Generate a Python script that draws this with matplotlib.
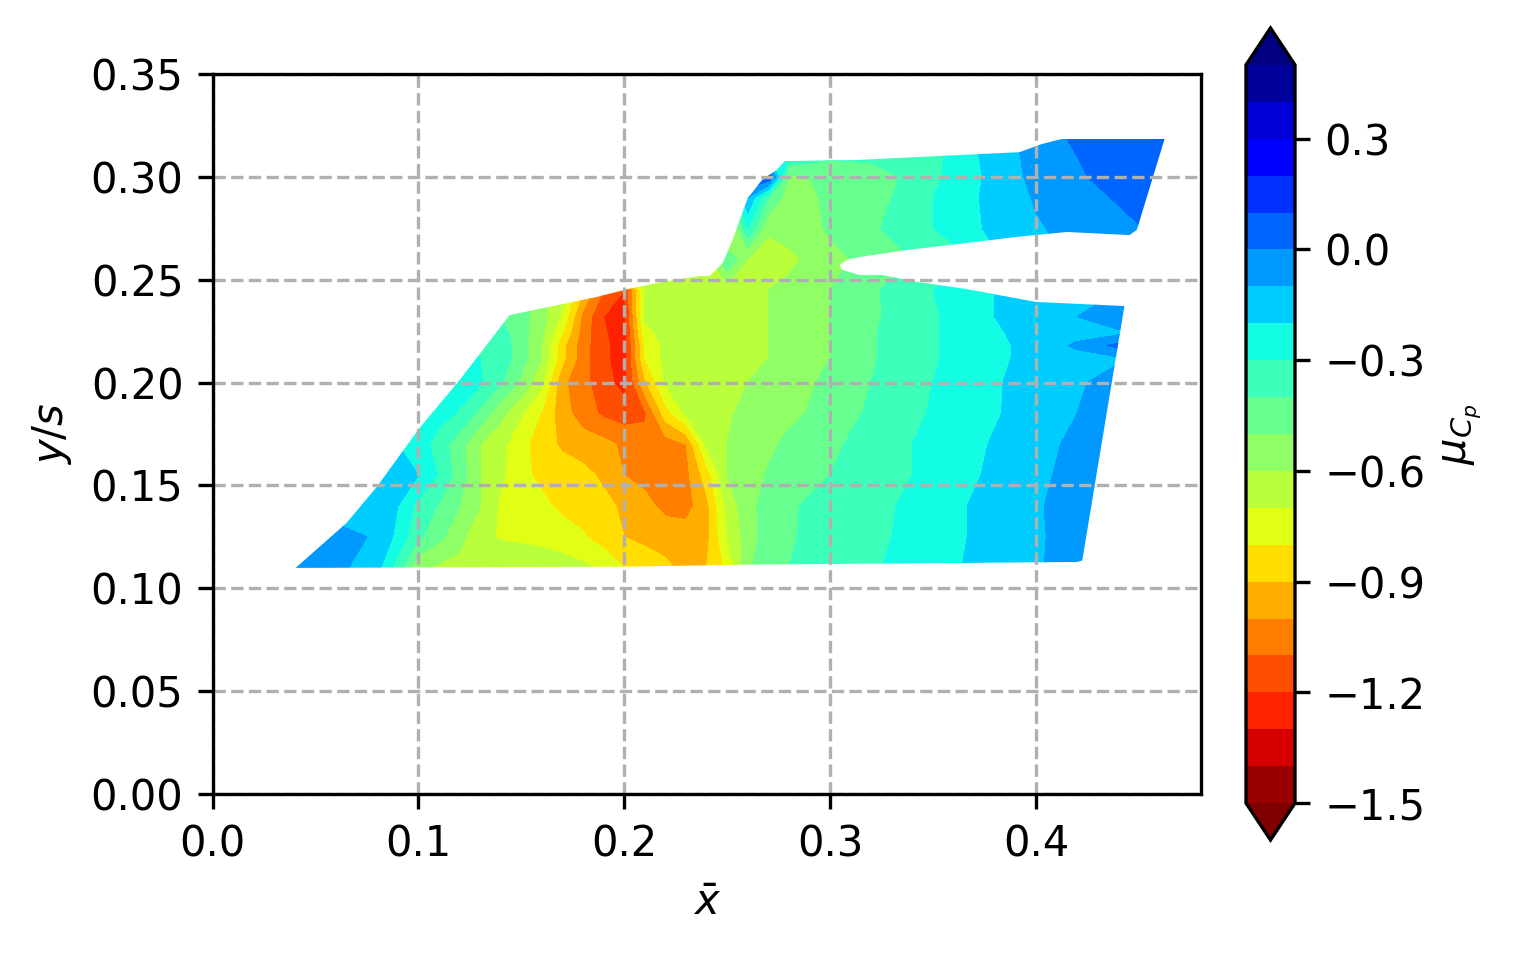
import numpy as np
import matplotlib
matplotlib.use("Agg")
import matplotlib.pyplot as plt
from matplotlib.patches import Polygon

x_stations = [.04,.06,.08,.09,.10,.11,.12,.13,.14,.15,.16,.17,.18,.19,.20,.21,.22,.23,.24,.25,.26,.27,.28,.30,.32,.34,.36,.38,.40,.42,.44,.46,.47]
y_stations = [.11,.125,.14,.155,.17,.185,.20,.212,.218,.224,.232,.245,.26,.275,.29,.30,.31,.32]

cp_y110 = [-.02,-.07,-.17,-.35,-.58,-.62,-.63,-.60,-.62,-.63,-.62,-.65,-.68,-.72,-.80,-.83,-.88,-.93,-.90,-.78,-.52,-.43,-.40,-.35,-.31,-.27,-.21,-.16,-.11,-.06,-.04,-.04,-.04]
cp_y125 = [-.05,-.07,-.11,-.23,-.38,-.47,-.57,-.67,-.71,-.72,-.74,-.76,-.79,-.85,-.90,-.93,-.94,-.95,-.93,-.70,-.55,-.45,-.41,-.36,-.32,-.28,-.22,-.16,-.11,-.07,-.05,-.05,-.05]
cp_y140 = [-.12,-.14,-.16,-.20,-.33,-.41,-.50,-.60,-.72,-.75,-.78,-.82,-.84,-.87,-.92,-.97,-1.03,-1.04,-.93,-.67,-.53,-.46,-.41,-.37,-.33,-.28,-.22,-.16,-.11,-.06,-.05,-.05,-.05]
cp_y155 = [-.15,-.15,-.15,-.17,-.20,-.31,-.45,-.60,-.68,-.78,-.82,-.84,-.87,-.92,-1.00,-1.03,-1.05,-1.03,-.85,-.60,-.55,-.49,-.45,-.40,-.35,-.30,-.24,-.18,-.12,-.07,-.05,-.05,-.05]
cp_y170 = [-.20,-.20,-.20,-.20,-.24,-.35,-.46,-.60,-.67,-.77,-.85,-.92,-.95,-.97,-1.02,-1.05,-1.05,-1.00,-.68,-.60,-.56,-.52,-.48,-.42,-.36,-.30,-.25,-.19,-.13,-.08,-.06,-.06,-.06]
cp_y185 = [-.25,-.25,-.25,-.25,-.25,-.26,-.31,-.43,-.57,-.69,-.81,-.96,-1.05,-1.12,-1.15,-1.12,-.85,-.68,-.65,-.61,-.58,-.55,-.52,-.47,-.38,-.32,-.26,-.21,-.15,-.10,-.07,-.07,-.07]
cp_y200 = [-.25,-.25,-.25,-.25,-.25,-.25,-.25,-.29,-.39,-.52,-.68,-.98,-1.07,-1.16,-1.24,-.92,-.69,-.66,-.65,-.63,-.60,-.57,-.54,-.48,-.40,-.33,-.27,-.21,-.16,-.11,-.07,-.07,-.07]
cp_y212 = [-.30,-.30,-.30,-.30,-.30,-.30,-.30,-.30,-.33,-.46,-.60,-.87,-1.06,-1.18,-1.25,-.80,-.67,-.66,-.65,-.65,-.63,-.60,-.57,-.50,-.41,-.34,-.28,-.22,-.17,-.14,-.11,-.11,-.11]
cp_y218 = [-.30,-.30,-.30,-.30,-.30,-.30,-.30,-.30,-.33,-.46,-.60,-.87,-1.06,-1.18,-1.25,-.80,-.67,-.66,-.65,-.65,-.63,-.60,-.57,-.50,-.41,-.34,-.28,-.22,-.17,-.08,.03,.03,.03]
cp_y224 = [-.34,-.34,-.34,-.34,-.34,-.34,-.34,-.34,-.36,-.46,-.58,-.80,-1.05,-1.19,-1.25,-.74,-.66,-.65,-.65,-.65,-.63,-.60,-.57,-.50,-.41,-.34,-.28,-.21,-.17,-.14,-.12,-.12,-.12]
cp_y232 = [-.38,-.38,-.38,-.38,-.38,-.38,-.38,-.38,-.40,-.46,-.56,-.72,-1.03,-1.20,-1.24,-.68,-.65,-.65,-.65,-.65,-.63,-.60,-.57,-.50,-.42,-.34,-.28,-.20,-.16,-.10,-.03,-.03,-.03]
cp_y245 = [-.40,-.40,-.40,-.40,-.40,-.40,-.40,-.40,-.42,-.48,-.56,-.66,-.90,-1.10,-1.20,-.68,-.65,-.65,-.65,-.65,-.64,-.60,-.57,-.50,-.42,-.33,-.27,-.20,-.15,-.12,-.10,-.10,-.10]
cp_y260 = [-.65,-.65,-.65,-.65,-.65,-.65,-.65,-.65,-.65,-.65,-.65,-.65,-.65,-.65,-.65,-.65,-.65,-.65,-.65,-.40,-.60,-.65,-.63,-.52,-.48,-.40,-.33,-.22,-.15,-.08,-.05,-.05,-.05]
cp_y275 = [-.70,-.70,-.70,-.70,-.70,-.70,-.70,-.70,-.70,-.70,-.70,-.70,-.70,-.70,-.70,-.70,-.70,-.70,-.70,-.72,-.30,-.58,-.55,-.49,-.42,-.33,-.27,-.17,-.11,-.07,-.03,.02,.02]
cp_y290 = [-.50,-.50,-.50,-.50,-.50,-.50,-.50,-.50,-.50,-.50,-.50,-.50,-.50,-.50,-.50,-.50,-.50,-.50,-.50,-.50,-.10,-.40,-.55,-.48,-.45,-.35,-.25,-.17,-.09,-.04,.01,.03,.03]
cp_y300 = [.10,.10,.10,.10,.10,.10,.10,.10,.10,.10,.10,.10,.10,.10,.10,.10,.10,.10,.10,.10,.10,.12,-.52,-.48,-.44,-.38,-.27,-.17,-.07,-.02,.06,.08,.08]
cp_y310 = [-.25,-.25,-.25,-.25,-.25,-.25,-.25,-.25,-.25,-.25,-.25,-.25,-.25,-.25,-.25,-.25,-.25,-.25,-.25,-.25,-.25,-.25,-.30,-.38,-.38,-.36,-.28,-.15,-.07,.00,.03,.04,.04]
cp_y320 = [-.25,-.25,-.25,-.25,-.25,-.25,-.25,-.25,-.25,-.25,-.25,-.25,-.25,-.25,-.25,-.25,-.25,-.25,-.25,-.25,-.25,-.25,-.30,-.36,-.38,-.36,-.28,-.15,-.05,.02,.04,.04,.04]

outline_x = [.0403,.20,.26,.35,.42,.4225,.443,.40,.366,.342,.325,.3143,.306,.3046,.308,.3143,.337,.366,.3906,.415,.4455,.449,.4625,.4125,.403,.392,.3435,.3129,.278,.274,.267,.26,.2526,.2478,.2415,.2366,.2157,.20,.1865,.1443,.12,.1006,.0797,.065]
outline_y = [.1099,.1105,.1115,.1122,.1128,.1135,.2372,.2392,.2455,.249,.2523,.2523,.2547,.2571,.2596,.261,.2644,.2678,.2708,.2732,.2717,.2742,.3184,.3184,.316,.312,.3097,.3082,.3077,.3033,.2985,.2897,.2693,.2581,.2518,.2518,.2484,.245,.2416,.2328,.2012,.178,.1492,.1317]

levels = np.linspace(-1.5, 0.5, 21)
cbar_ticks = [-1.5, -1.2, -0.9, -0.6, -0.3, 0.0, 0.3]

field = np.array([cp_y110, cp_y125, cp_y140, cp_y155, cp_y170, cp_y185, cp_y200, cp_y212, cp_y218, cp_y224,
                  cp_y232, cp_y245, cp_y260, cp_y275, cp_y290, cp_y300, cp_y310, cp_y320])

W, H = 1513, 954
fig = plt.figure(figsize=(W / 300, H / 300), dpi=300)
ax = fig.add_axes([212.6 / W, 1 - 794 / H, 988 / W, 720 / H])
cs = ax.contourf(x_stations, y_stations, field, levels=levels, cmap="jet_r", extend="both")
shape = Polygon(np.column_stack([outline_x, outline_y]), closed=True, transform=ax.transData,
                facecolor="none", edgecolor="none")
ax.add_patch(shape)
cs.set_clip_path(shape)

ax.set_xlim(0, 0.48)
ax.set_ylim(0, 0.35)
ax.set_xticks([0.0, 0.1, 0.2, 0.3, 0.4])
ax.set_yticks([0.0, 0.05, 0.10, 0.15, 0.20, 0.25, 0.30, 0.35])
ax.set_yticklabels(["0.00", "0.05", "0.10", "0.15", "0.20", "0.25", "0.30", "0.35"])
ax.set_axisbelow(False)
ax.grid(True, linestyle="--", color="#b0b0b0", linewidth=0.8)
for spine in ax.spines.values():
    spine.set_zorder(5)
ax.set_xlabel(r"$\bar{x}$")
ax.set_ylabel(r"$y/s$")

cax = fig.add_axes([1246 / W, 1 - 840 / H, 49 / W, 812 / H])
cb = fig.colorbar(cs, cax=cax, ticks=cbar_ticks)
cb.set_label(r"$\mu_{C_p}$")

fig.savefig("out.png", dpi=300)
